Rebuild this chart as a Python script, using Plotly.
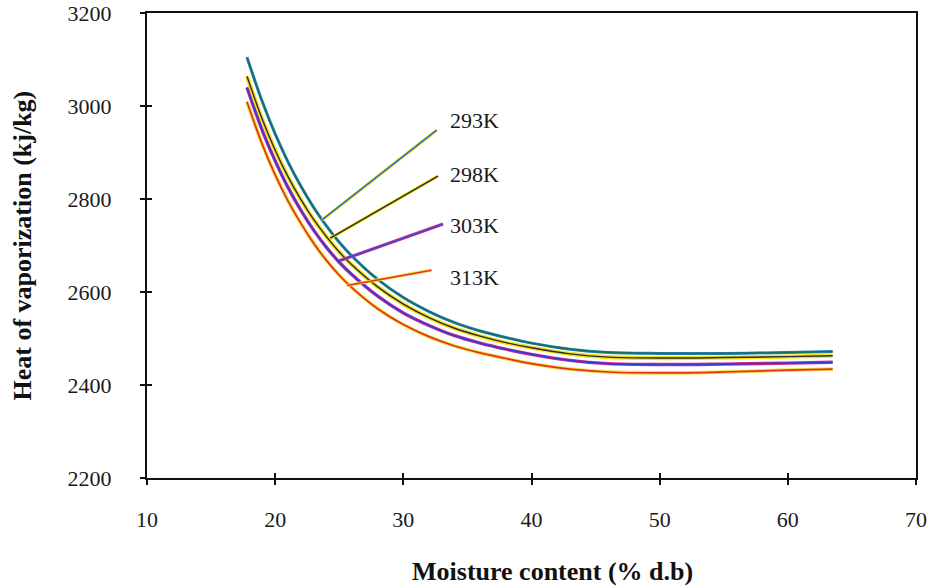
import plotly.graph_objects as go

# ---- data ----
moisture = [17.8, 19, 20, 21, 22, 23, 24, 25, 26, 28, 30, 32, 34, 36, 38, 40, 43, 46, 50, 55, 60, 63.5]
hv_293 = [3105, 3009, 2940, 2880, 2828, 2782, 2742, 2707, 2677, 2627, 2588, 2558, 2534, 2516, 2502, 2490, 2477, 2470, 2468, 2468, 2470, 2472]
hv_298 = [3064, 2971, 2905, 2848, 2799, 2756, 2719, 2686, 2658, 2611, 2574, 2545, 2522, 2505, 2491, 2480, 2467, 2460, 2458, 2459, 2461, 2463]
hv_303 = [3040, 2947, 2882, 2825, 2776, 2733, 2696, 2664, 2637, 2591, 2555, 2528, 2506, 2490, 2477, 2466, 2453, 2446, 2444, 2445, 2447, 2449]
hv_313 = [3009, 2917, 2852, 2796, 2748, 2705, 2668, 2636, 2609, 2564, 2530, 2504, 2484, 2469, 2457, 2446, 2434, 2428, 2426, 2428, 2432, 2434]

labels = ["293K", "298K", "303K", "313K"]
leader_x = [[23.65, 32.6], [24.3, 32.7], [25.0, 33.1], [25.6, 32.2]]
leader_y = [[2755, 2948], [2716, 2849], [2667, 2746], [2614, 2647]]
label_y = [2968, 2852, 2744, 2632]
label_x = 33.5

x_ticks = [10, 20, 30, 40, 50, 60, 70]
y_ticks = [2200, 2400, 2600, 2800, 3000, 3200]

# styles: (underlay colour, underlay width, main colour, main width)
styles = {
    "293K": ("#2f86c8", 3.0, "#16705e", 1.7),
    "298K": ("#f3e21a", 4.2, "#2b2b2b", 1.4),
    "303K": ("#d3288e", 3.4, "#2b3fd2", 1.6),
    "313K": ("#f2e04a", 3.8, "#e2321c", 1.7),
}
leader_under = {"293K": "#f3e21a", "298K": "#f3e21a", "303K": "#d3288e", "313K": "#f2e04a"}
leader_main = {"293K": "#1f72cc", "298K": "#2b2b2b", "303K": "#2b4fd8", "313K": "#e2321c"}
series = {"293K": hv_293, "298K": hv_298, "303K": hv_303, "313K": hv_313}

fig = go.Figure()
for name in ["313K", "303K", "298K", "293K"]:
    uc, uw, mc, mw = styles[name]
    fig.add_trace(go.Scatter(x=moisture, y=series[name], mode="lines",
                             line=dict(color=uc, width=uw, shape="spline"),
                             showlegend=False, hoverinfo="skip"))
    fig.add_trace(go.Scatter(x=moisture, y=series[name], mode="lines", name=name,
                             line=dict(color=mc, width=mw, shape="spline"),
                             showlegend=False))

for i, name in enumerate(labels):
    fig.add_trace(go.Scatter(x=leader_x[i], y=leader_y[i], mode="lines", xaxis="x2", yaxis="y2",
                             line=dict(color=leader_under[name], width=3.2), showlegend=False,
                             hoverinfo="skip"))
    fig.add_trace(go.Scatter(x=leader_x[i], y=leader_y[i], mode="lines", xaxis="x2", yaxis="y2",
                             line=dict(color=leader_main[name], width=1.5), showlegend=False,
                             hoverinfo="skip"))

font_family = "Liberation Serif"
for i, name in enumerate(labels):
    fig.add_annotation(x=label_x, y=label_y[i], text=name, showarrow=False,
                       xanchor="left", yanchor="middle",
                       font=dict(family=font_family, size=22, color="#1a1a1a"))

fig.add_annotation(xref="paper", yref="paper", x=0.527, y=-0.2366, text="<b>Moisture content (% d.b)</b>",
                   showarrow=False, xanchor="center", yanchor="bottom",
                   font=dict(family=font_family, size=26, color="#111"))
fig.add_annotation(xref="paper", yref="paper", x=-0.1625, y=0.5, text="<b>Heat of vaporization (kj/kg)</b>",
                   showarrow=False, xanchor="center", yanchor="middle", textangle=-90,
                   font=dict(family=font_family, size=26, color="#111"))

axis_common = dict(showgrid=False, zeroline=False, showline=True, linecolor="#111", linewidth=2,
                   automargin=False)
fig.update_layout(
    width=933, height=588,
    margin=dict(l=147, r=17, t=13, b=110),
    paper_bgcolor="white", plot_bgcolor="white",
    xaxis=dict(range=[10, 70], tickvals=x_ticks, ticktext=[str(v) for v in x_ticks],
               ticks="outside", ticklen=5, tickwidth=2, tickcolor="#111", mirror=True,
               ticklabelstandoff=16,
               tickfont=dict(family=font_family, size=22, color="#1a1a1a"), **axis_common),
    yaxis=dict(range=[2200, 3200], tickvals=y_ticks, ticktext=[str(v) for v in y_ticks],
               ticks="outside", ticklen=5, tickwidth=2, tickcolor="#111", mirror=True,
               ticklabelstandoff=24,
               tickfont=dict(family=font_family, size=22, color="#1a1a1a"), **axis_common),
    xaxis2=dict(range=[10, 70], overlaying="x", anchor="y", tickvals=x_ticks, ticks="inside",
                ticklen=5, tickwidth=2, tickcolor="#111", showticklabels=False, automargin=False,
                showgrid=False, zeroline=False, showline=False),
    yaxis2=dict(range=[2200, 3200], overlaying="y", anchor="x", tickvals=y_ticks, ticks="inside",
                ticklen=5, tickwidth=2, tickcolor="#111", showticklabels=False, automargin=False,
                showgrid=False, zeroline=False, showline=False),
)

fig.write_html("out.html", config={"displayModeBar": False},
               post_script="document.body.style.margin='0';document.body.style.overflow='hidden';")
